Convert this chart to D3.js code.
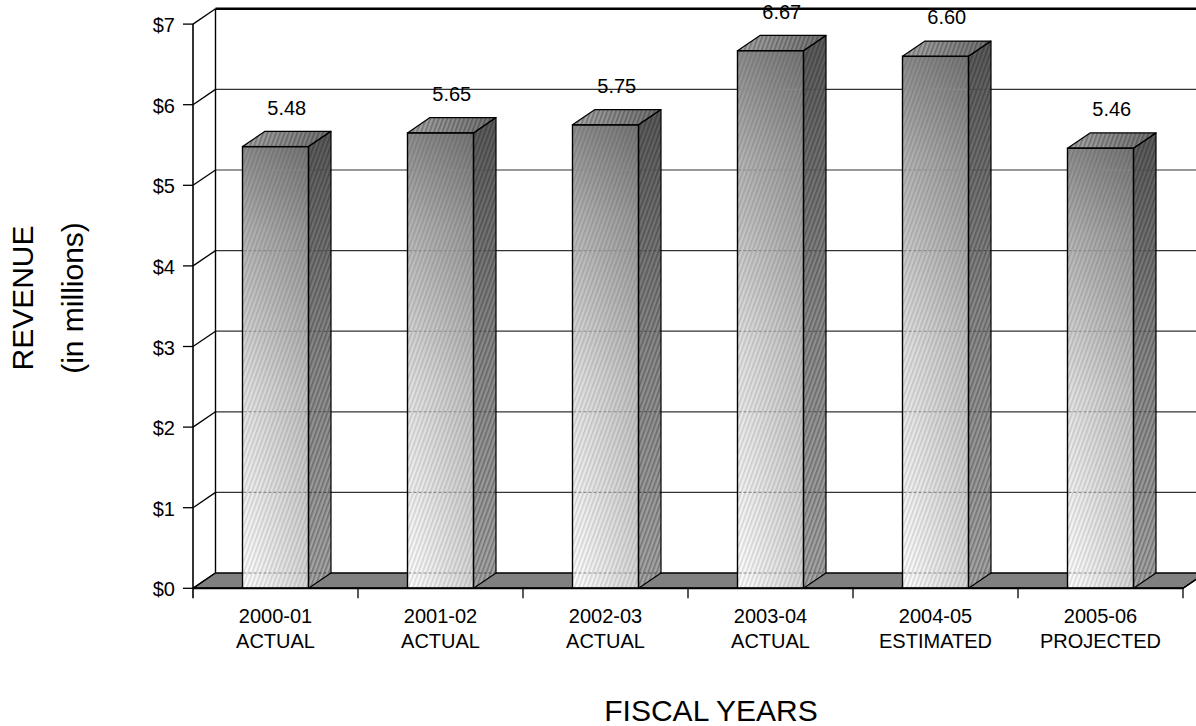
<!DOCTYPE html>
<html>
<head>
<meta charset="utf-8">
<script src="https://cdn.jsdelivr.net/npm/d3@7"></script>
<style>
  html, body { margin: 0; padding: 0; background: #fff; }
  svg { display: block; font-family: "Liberation Sans", Arial, sans-serif; }
</style>
</head>
<body>
<svg id="chart" width="1196" height="726"></svg>
<script>
const categories = ["2000-01", "2001-02", "2002-03", "2003-04", "2004-05", "2005-06"];
const categoryStatus = ["ACTUAL", "ACTUAL", "ACTUAL", "ACTUAL", "ESTIMATED", "PROJECTED"];
const revenue = [5.48, 5.65, 5.75, 6.67, 6.60, 5.46];
const valueLabels = ["5.48", "5.65", "5.75", "6.67", "6.60", "5.46"];
const yTicks = [0, 1, 2, 3, 4, 5, 6, 7];
const yTickLabels = ["$0", "$1", "$2", "$3", "$4", "$5", "$6", "$7"];
const yTitle = "REVENUE";
const yTitle2 = "(in millions)";
const xTitle = "FISCAL YEARS";

const svg = d3.select("#chart");
const X0 = 193, X1 = 1183;
const DX = 22.5, DY = -15.3;

const y = d3.scaleLinear().domain([0, 7]).range([588.3, 24.1]);
const x = d3.scaleBand().domain(categories).range([X0, X1]).paddingInner(0.6).paddingOuter(0.3);
const xb = d3.scaleBand().domain(categories).range([X0, X1]).padding(0);

const defs = svg.append("defs");
// hatch pattern
const pat = defs.append("pattern").attr("id", "hatch").attr("patternUnits", "userSpaceOnUse")
  .attr("width", 4).attr("height", 4).attr("patternTransform", "rotate(20)");
pat.append("rect").attr("x", 0).attr("y", 0).attr("width", 1.6).attr("height", 4).attr("fill", "rgba(0,0,0,0.13)");
const pat2 = defs.append("pattern").attr("id", "hatch2").attr("patternUnits", "userSpaceOnUse")
  .attr("width", 4).attr("height", 4).attr("patternTransform", "rotate(20)");
pat2.append("rect").attr("x", 0).attr("y", 0).attr("width", 1.6).attr("height", 4).attr("fill", "rgba(0,0,0,0.28)");

const gFront = defs.append("linearGradient").attr("id", "gFront").attr("x1", 0).attr("y1", 1).attr("x2", 0).attr("y2", 0);
[[0, "#ffffff"], [0.45, "#e2e2e2"], [0.8, "#b4b4b4"], [1, "#8c8c8c"]].forEach(s =>
  gFront.append("stop").attr("offset", s[0]).attr("stop-color", s[1]));
const gShade = defs.append("linearGradient").attr("id", "gShade").attr("x1", 0).attr("y1", 0).attr("x2", 1).attr("y2", 0);
gShade.append("stop").attr("offset", 0).attr("stop-color", "#000").attr("stop-opacity", 0);
gShade.append("stop").attr("offset", 1).attr("stop-color", "#000").attr("stop-opacity", 0.16);
const gSide = defs.append("linearGradient").attr("id", "gSide").attr("x1", 0).attr("y1", 1).attr("x2", 0).attr("y2", 0);
[[0, "#a6a6a6"], [0.5, "#8a8a8a"], [1, "#5a5a5a"]].forEach(s =>
  gSide.append("stop").attr("offset", s[0]).attr("stop-color", s[1]));
const gTop = defs.append("linearGradient").attr("id", "gTop").attr("x1", 0).attr("y1", 0).attr("x2", 1).attr("y2", 0);
[[0, "#a8a8a8"], [1, "#707070"]].forEach(s =>
  gTop.append("stop").attr("offset", s[0]).attr("stop-color", s[1]));

// Back wall grid lines
const grid = svg.append("g");
yTicks.slice(1, -1).forEach(t => {
  grid.append("line").attr("x1", X0 + DX).attr("x2", X1 + DX + 20)
    .attr("y1", y(t) + DY).attr("y2", y(t) + DY)
    .attr("stroke", "#333").attr("stroke-width", 1.2);
});
// top border of back wall
grid.append("line").attr("x1", X0 + DX).attr("x2", X1 + DX + 20)
  .attr("y1", y(7) + DY).attr("y2", y(7) + DY).attr("stroke", "#000").attr("stroke-width", 2.4);
// back wall left edge
grid.append("line").attr("x1", X0 + DX).attr("x2", X0 + DX)
  .attr("y1", y(7) + DY).attr("y2", y(0) + DY).attr("stroke", "#000").attr("stroke-width", 1.4);
// side diagonals
yTicks.forEach(t => {
  grid.append("line").attr("x1", X0).attr("y1", y(t)).attr("x2", X0 + DX).attr("y2", y(t) + DY)
    .attr("stroke", "#000").attr("stroke-width", 1.3);
});

// Floor
svg.append("polygon")
  .attr("points", [[X0, y(0)], [X1, y(0)], [X1 + DX, y(0) + DY], [X0 + DX, y(0) + DY]].map(p => p.join(",")).join(" "))
  .attr("fill", "#808080").attr("stroke", "#000").attr("stroke-width", 1.4);

// Bars
const bars = svg.append("g");
categories.forEach((c, i) => {
  const v = revenue[i];
  const x0 = x(c), w = x.bandwidth();
  const yt = y(v), yb = y(0);
  const g = bars.append("g");
  // front
  g.append("rect").attr("x", x0).attr("y", yt).attr("width", w).attr("height", yb - yt).attr("fill", "url(#gFront)");
  g.append("rect").attr("x", x0).attr("y", yt).attr("width", w).attr("height", yb - yt).attr("fill", "url(#gShade)");
  g.append("rect").attr("x", x0).attr("y", yt).attr("width", w).attr("height", yb - yt).attr("fill", "url(#hatch)");
  // side
  const side = [[x0 + w, yt], [x0 + w + DX, yt + DY], [x0 + w + DX, yb + DY], [x0 + w, yb]].map(p => p.join(",")).join(" ");
  g.append("polygon").attr("points", side).attr("fill", "url(#gSide)");
  g.append("polygon").attr("points", side).attr("fill", "url(#hatch2)");
  // top
  const top = [[x0, yt], [x0 + DX, yt + DY], [x0 + w + DX, yt + DY], [x0 + w, yt]].map(p => p.join(",")).join(" ");
  g.append("polygon").attr("points", top).attr("fill", "url(#gTop)");
  g.append("polygon").attr("points", top).attr("fill", "url(#hatch2)");
  // see-through gridlines
  yTicks.slice(0, -1).forEach(t => {
    const gy = y(t) + DY;
    if (gy > yt + 2) {
      g.append("line").attr("x1", x0 + 1).attr("x2", x0 + w).attr("y1", gy).attr("y2", gy)
        .attr("stroke", "#8a8a8a").attr("stroke-width", 1.1).attr("stroke-dasharray", "3,2");
      g.append("line").attr("x1", x0 + w).attr("x2", x0 + w + DX).attr("y1", gy).attr("y2", gy)
        .attr("stroke", "#4a4a4a").attr("stroke-width", 1.1).attr("stroke-dasharray", "3,2");
    }
  });
  // outlines
  g.append("rect").attr("x", x0).attr("y", yt).attr("width", w).attr("height", yb - yt)
    .attr("fill", "none").attr("stroke", "#000").attr("stroke-width", 1.4);
  g.append("polygon").attr("points", side).attr("fill", "none").attr("stroke", "#000").attr("stroke-width", 1.2).attr("stroke-linejoin", "round");
  g.append("polygon").attr("points", top).attr("fill", "none").attr("stroke", "#000").attr("stroke-width", 1.2).attr("stroke-linejoin", "round");
  // value label
  g.append("text").attr("x", x0 + w / 2 + DX / 2).attr("y", yt - 32)
    .attr("text-anchor", "middle").attr("font-size", 20).attr("fill", "#000").text(valueLabels[i]);
});

// Front axis & floor front edge
const ax = svg.append("g");
ax.append("line").attr("x1", X0).attr("x2", X0).attr("y1", y(7)).attr("y2", y(0) + 10)
  .attr("stroke", "#000").attr("stroke-width", 1.6);
ax.append("line").attr("x1", X0).attr("x2", X1).attr("y1", y(0)).attr("y2", y(0))
  .attr("stroke", "#000").attr("stroke-width", 2);
yTicks.forEach((t, i) => {
  ax.append("line").attr("x1", X0 - 10).attr("x2", X0).attr("y1", y(t)).attr("y2", y(t))
    .attr("stroke", "#000").attr("stroke-width", 1.3);
  ax.append("text").attr("x", 175).attr("y", y(t) + 1).attr("dy", "0.35em")
    .attr("text-anchor", "end").attr("font-size", 20).attr("fill", "#000").text(yTickLabels[i]);
});
// category boundary ticks
categories.forEach((c, i) => {
  const bx = xb(c) + xb.bandwidth();
  ax.append("line").attr("x1", bx).attr("x2", bx).attr("y1", y(0)).attr("y2", y(0) + 10)
    .attr("stroke", "#000").attr("stroke-width", 1.3);
  const cx = xb(c) + xb.bandwidth() / 2;
  ax.append("text").attr("x", cx).attr("y", 623).attr("text-anchor", "middle")
    .attr("font-size", 20).attr("fill", "#000").text(c);
  ax.append("text").attr("x", cx).attr("y", 648).attr("text-anchor", "middle")
    .attr("font-size", 20).attr("fill", "#000").text(categoryStatus[i]);
});
// right floor edge
ax.append("line").attr("x1", X1).attr("y1", y(0)).attr("x2", X1 + DX).attr("y2", y(0) + DY)
  .attr("stroke", "#000").attr("stroke-width", 1.3);

// Titles
svg.append("text").attr("transform", "translate(33,298) rotate(-90)").attr("text-anchor", "middle")
  .attr("font-size", 30).attr("fill", "#000").text(yTitle);
svg.append("text").attr("transform", "translate(83,298) rotate(-90)").attr("text-anchor", "middle")
  .attr("font-size", 30).attr("fill", "#000").text(yTitle2);
svg.append("text").attr("x", 711).attr("y", 721).attr("text-anchor", "middle")
  .attr("font-size", 30).attr("fill", "#000").text(xTitle);
</script>
</body>
</html>
